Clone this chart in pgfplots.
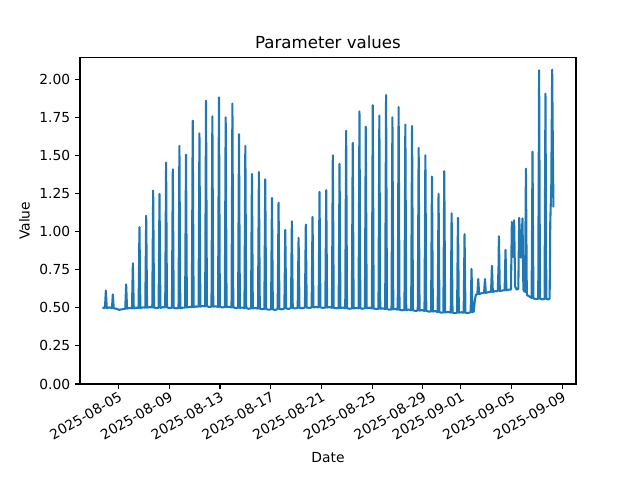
\documentclass[border=0pt]{standalone}
\usepackage{pgfplots}
\pgfplotsset{compat=1.18}
\usepackage{fontspec}
\setmainfont{DejaVu Sans}
\definecolor{mplblue}{HTML}{1F77B4}
\begin{document}
\begin{tikzpicture}
\useasboundingbox (-0.8in,-0.96in) rectangle (5.6in,3.84in);
\begin{axis}[
  at={(0,0)}, anchor=south west,
  scale only axis, width=4.96in, height=3.264in,
  xmin=-3.04, xmax=36.08, ymin=0, ymax=2.143,
  axis line style={line width=0.8bp},
  tick style={line width=0.8bp, black},
  tick align=outside, major tick length=3.5bp,
  xtick pos=bottom, ytick pos=left,
  xtick={0,4,8,12,16,20,24,27,31,35},
  xticklabels={2025-08-05,2025-08-09,2025-08-13,2025-08-17,2025-08-21,2025-08-25,2025-08-29,2025-09-01,2025-09-05,2025-09-09},
  xticklabel style={rotate=30, anchor=north east, inner sep=1pt, font=\fontsize{10}{12}\selectfont},
  ytick={0,0.25,0.5,0.75,1,1.25,1.5,1.75,2},
  yticklabel style={font=\fontsize{10}{12}\selectfont, /pgf/number format/fixed, /pgf/number format/fixed zerofill, /pgf/number format/precision=2},
  /pgf/number format/assume math mode=true,
  title={Parameter values},
  title style={font=\fontsize{12}{14}\selectfont, yshift=-3pt},
  xlabel={Date}, ylabel={Value},
  label style={font=\fontsize{10}{12}\selectfont},
  xlabel style={yshift=-3.5pt},
]
\addplot[mplblue, line width=1.5bp, line join=round] coordinates {
(-1.26,0.503) (-1.16,0.499)
(-1.07,0.500) (-1.00,0.614) (-0.93,0.499)
(-0.72,0.503)
(-0.52,0.498) (-0.45,0.588) (-0.38,0.497)
(-0.15,0.494) (0.05,0.487) (0.30,0.491)
(0.53,0.494) (0.60,0.654) (0.67,0.495)
(0.87,0.499)
(1.06,0.497) (1.13,0.793) (1.20,0.497)
(1.39,0.501)
(1.58,0.500) (1.65,1.030) (1.72,0.499)
(1.92,0.503)
(2.11,0.502) (2.18,1.104) (2.25,0.501)
(2.46,0.505)
(2.66,0.503) (2.73,1.270) (2.80,0.502)
(2.98,0.498)
(3.16,0.501) (3.23,1.248) (3.30,0.500)
(3.49,0.504)
(3.68,0.504) (3.75,1.454) (3.82,0.503)
(4.02,0.499)
(4.21,0.500) (4.28,1.410) (4.35,0.499)
(4.54,0.497)
(4.73,0.498) (4.80,1.563) (4.87,0.497)
(5.06,0.501)
(5.25,0.502) (5.32,1.506) (5.39,0.502)
(5.59,0.506)
(5.78,0.505) (5.85,1.729) (5.92,0.505)
(6.12,0.509)
(6.31,0.508) (6.38,1.646) (6.45,0.508)
(6.64,0.512)
(6.83,0.510) (6.90,1.860) (6.97,0.510)
(7.15,0.506)
(7.33,0.508) (7.40,1.757) (7.47,0.508)
(7.66,0.510)
(7.85,0.506) (7.92,1.882) (7.99,0.506)
(8.19,0.503)
(8.38,0.505) (8.45,1.751) (8.52,0.505)
(8.72,0.507)
(8.91,0.503) (8.98,1.841) (9.05,0.503)
(9.24,0.499)
(9.43,0.500) (9.50,1.641) (9.57,0.500)
(9.75,0.502)
(9.93,0.498) (10.00,1.563) (10.07,0.498)
(10.26,0.494)
(10.45,0.497) (10.52,1.379) (10.59,0.497)
(10.80,0.499)
(11.00,0.495) (11.07,1.392) (11.14,0.495)
(11.32,0.491)
(11.50,0.492) (11.57,1.344) (11.64,0.492)
(11.84,0.488)
(12.03,0.490) (12.10,1.222) (12.17,0.490)
(12.36,0.486)
(12.55,0.493) (12.62,1.191) (12.69,0.493)
(12.89,0.490)
(13.08,0.496) (13.15,1.012) (13.22,0.496)
(13.41,0.493)
(13.60,0.499) (13.67,1.069) (13.74,0.499)
(13.94,0.496)
(14.13,0.500) (14.20,0.959) (14.27,0.500)
(14.49,0.497)
(14.70,0.502) (14.77,1.047) (14.84,0.502)
(15.04,0.499)
(15.23,0.503) (15.30,1.097) (15.37,0.503)
(15.58,0.506)
(15.78,0.503) (15.85,1.261) (15.92,0.503)
(16.12,0.500)
(16.31,0.502) (16.38,1.272) (16.45,0.502)
(16.64,0.505)
(16.83,0.500) (16.90,1.502) (16.97,0.500)
(17.17,0.497)
(17.36,0.499) (17.43,1.445) (17.50,0.499)
(17.69,0.502)
(17.88,0.497) (17.95,1.663) (18.02,0.497)
(18.21,0.494)
(18.40,0.496) (18.47,1.583) (18.54,0.496)
(18.74,0.499)
(18.93,0.497) (19.00,1.790) (19.07,0.497)
(19.25,0.494)
(19.43,0.498) (19.50,1.690) (19.57,0.498)
(19.78,0.501)
(19.98,0.496) (20.05,1.830) (20.12,0.496)
(20.31,0.492)
(20.50,0.494) (20.57,1.762) (20.64,0.494)
(20.84,0.497)
(21.03,0.492) (21.10,1.897) (21.17,0.492)
(21.35,0.488)
(21.53,0.490) (21.60,1.751) (21.67,0.490)
(21.85,0.493)
(22.02,0.488) (22.09,1.818) (22.16,0.488)
(22.36,0.484)
(22.55,0.486) (22.62,1.703) (22.69,0.486)
(22.89,0.489)
(23.08,0.484) (23.15,1.694) (23.22,0.484)
(23.41,0.480)
(23.60,0.482) (23.67,1.550) (23.74,0.482)
(23.94,0.485)
(24.13,0.480) (24.20,1.502) (24.27,0.480)
(24.46,0.476)
(24.65,0.476) (24.72,1.362) (24.79,0.476)
(24.98,0.479)
(25.17,0.472) (25.24,1.248) (25.31,0.472)
(25.46,0.468)
(25.62,0.470) (25.69,1.397) (25.76,0.470)
(25.98,0.473)
(26.20,0.469) (26.27,1.121) (26.34,0.469)
(26.52,0.465)
(26.70,0.468) (26.77,1.091) (26.84,0.468)
(27.03,0.471)
(27.22,0.468) (27.29,0.984) (27.36,0.468)
(27.56,0.465)
(27.77,0.472) (27.84,0.756) (27.91,0.472)
(28.02,0.476) (28.10,0.550) (28.18,0.585)
(28.30,0.590) (28.37,0.689) (28.44,0.590)
(28.63,0.596)
(28.83,0.598) (28.90,0.689) (28.97,0.598)
(29.17,0.603)
(29.38,0.605) (29.45,0.776) (29.52,0.605)
(29.72,0.610)
(29.91,0.610) (29.97,0.770) (30.00,0.970) (30.07,0.610)
(30.26,0.614)
(30.45,0.615) (30.52,0.881) (30.59,0.615)
(30.80,0.620)
(30.95,0.620) (31.02,1.064) (31.11,0.835) (31.20,1.075) (31.28,0.640) (31.40,0.620)
(31.53,0.625) (31.60,1.091) (31.73,0.830) (31.86,1.087) (31.93,0.620) (31.98,0.610)
(32.06,0.605) (32.13,1.414) (32.20,0.585)
(32.40,0.575)
(32.58,0.565) (32.65,1.526) (32.72,0.562)
(32.90,0.558)
(33.10,0.560) (33.17,2.059) (33.24,0.560)
(33.42,0.556)
(33.60,0.558) (33.67,1.906) (33.74,0.558)
(33.92,0.556) (34.00,0.560) (34.05,1.060) (34.13,1.300) (34.20,2.064) (34.26,1.500) (34.30,1.160)
};
\end{axis}
\end{tikzpicture}
\end{document}
